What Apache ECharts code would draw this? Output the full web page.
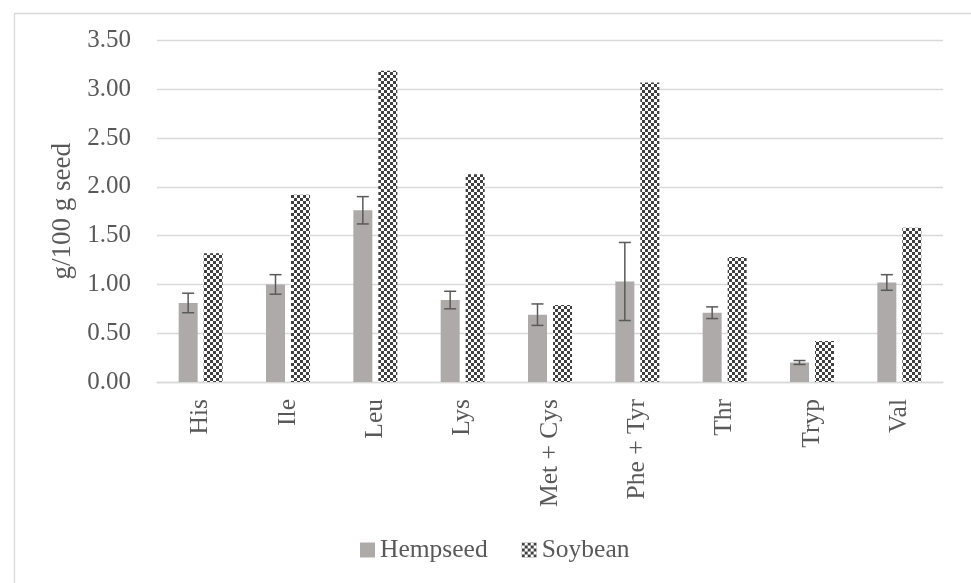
<!DOCTYPE html>
<html>
<head>
<meta charset="utf-8">
<script src="https://cdn.jsdelivr.net/npm/echarts/dist/echarts.min.js"></script>
<style>
  html, body { margin: 0; padding: 0; background: #ffffff; }
  #chart { width: 971px; height: 583px; }
</style>
</head>
<body>
<div id="chart"></div>
<script>
const categories = ['His', 'Ile', 'Leu', 'Lys', 'Met + Cys', 'Phe + Tyr', 'Thr', 'Tryp', 'Val'];
const hempseed = [0.81, 1.00, 1.76, 0.84, 0.69, 1.03, 0.71, 0.20, 1.02];
const hempseedErr = [0.10, 0.10, 0.14, 0.09, 0.11, 0.40, 0.06, 0.02, 0.08];
const soybean = [1.32, 1.92, 3.19, 2.13, 0.79, 3.07, 1.28, 0.42, 1.58];
const yTicks = { min: 0, max: 3.5, interval: 0.5 };

const FONT = '"Liberation Serif", "DejaVu Serif", serif';
const TEXT = '#595959';

// checkerboard pattern for soybean
const pc = document.createElement('canvas');
pc.width = 6; pc.height = 6;
const pctx = pc.getContext('2d');
pctx.fillStyle = '#ffffff';
pctx.fillRect(0, 0, 6, 6);
pctx.fillStyle = '#404040';
pctx.fillRect(0, 0, 3, 3);
pctx.fillRect(3, 3, 3, 3);
const checker = { image: pc, repeat: 'repeat' };

const BAR_W = 19;
const GAP = 6;

const errData = hempseed.map((v, i) => [i, v, hempseedErr[i]]);

const chart = echarts.init(document.getElementById('chart'), null, { renderer: 'canvas' });
chart.setOption({
  backgroundColor: '#ffffff',
  animation: false,
  graphic: [{
    type: 'rect',
    left: 12, top: 11,
    shape: { width: 1000, height: 620 },
    style: { fill: 'none', stroke: '#d9d9d9', lineWidth: 1.3 },
    silent: true, z: -1
  }],
  grid: { left: 157, right: 28, top: 40.5, bottom: 201 },
  legend: {
    left: 355, top: 532,
    itemWidth: 15, itemHeight: 15, itemGap: 34,
    icon: 'rect',
    textStyle: { fontFamily: FONT, fontSize: 25.5, color: TEXT, padding: [0, 0, 0, 0] },
    data: ['Hempseed', 'Soybean']
  },
  xAxis: {
    type: 'category',
    data: categories,
    axisLine: { show: true, lineStyle: { color: '#d9d9d9', width: 1.3 } },
    axisTick: { show: false },
    axisLabel: { rotate: 90, margin: 17, fontFamily: FONT, fontSize: 25.5, color: TEXT, interval: 0 }
  },
  yAxis: {
    type: 'value',
    min: yTicks.min, max: yTicks.max, interval: yTicks.interval,
    name: 'g/100 g seed',
    nameLocation: 'middle',
    nameGap: 80,
    nameTextStyle: { fontFamily: FONT, fontSize: 27, color: TEXT },
    axisLine: { show: false },
    axisTick: { show: false },
    splitLine: { lineStyle: { color: '#d9d9d9', width: 1.3 } },
    axisLabel: { fontFamily: FONT, fontSize: 25, color: TEXT, margin: 26, formatter: v => v.toFixed(2) }
  },
  series: [
    {
      name: 'Hempseed', type: 'bar', data: hempseed,
      barWidth: BAR_W, barGap: (GAP / BAR_W * 100).toFixed(1) + '%',
      itemStyle: { color: '#aeaaaa' }
    },
    {
      name: 'Soybean', type: 'bar', data: soybean,
      barWidth: BAR_W,
      itemStyle: { color: checker }
    },
    {
      name: 'err', type: 'custom', data: errData, z: 5,
      renderItem: function (params, api) {
        const i = api.value(0), v = api.value(1), e = api.value(2);
        const hi = api.coord([i, v + e]);
        const lo = api.coord([i, v - e]);
        const x = hi[0] - (BAR_W + GAP) / 2;
        const hw = 6;
        const st = { stroke: '#595959', lineWidth: 1.5, fill: 'none' };
        return {
          type: 'group',
          children: [
            { type: 'line', shape: { x1: x, y1: hi[1], x2: x, y2: lo[1] }, style: st },
            { type: 'line', shape: { x1: x - hw, y1: hi[1], x2: x + hw, y2: hi[1] }, style: st },
            { type: 'line', shape: { x1: x - hw, y1: lo[1], x2: x + hw, y2: lo[1] }, style: st }
          ]
        };
      }
    }
  ]
});
</script>
</body>
</html>
